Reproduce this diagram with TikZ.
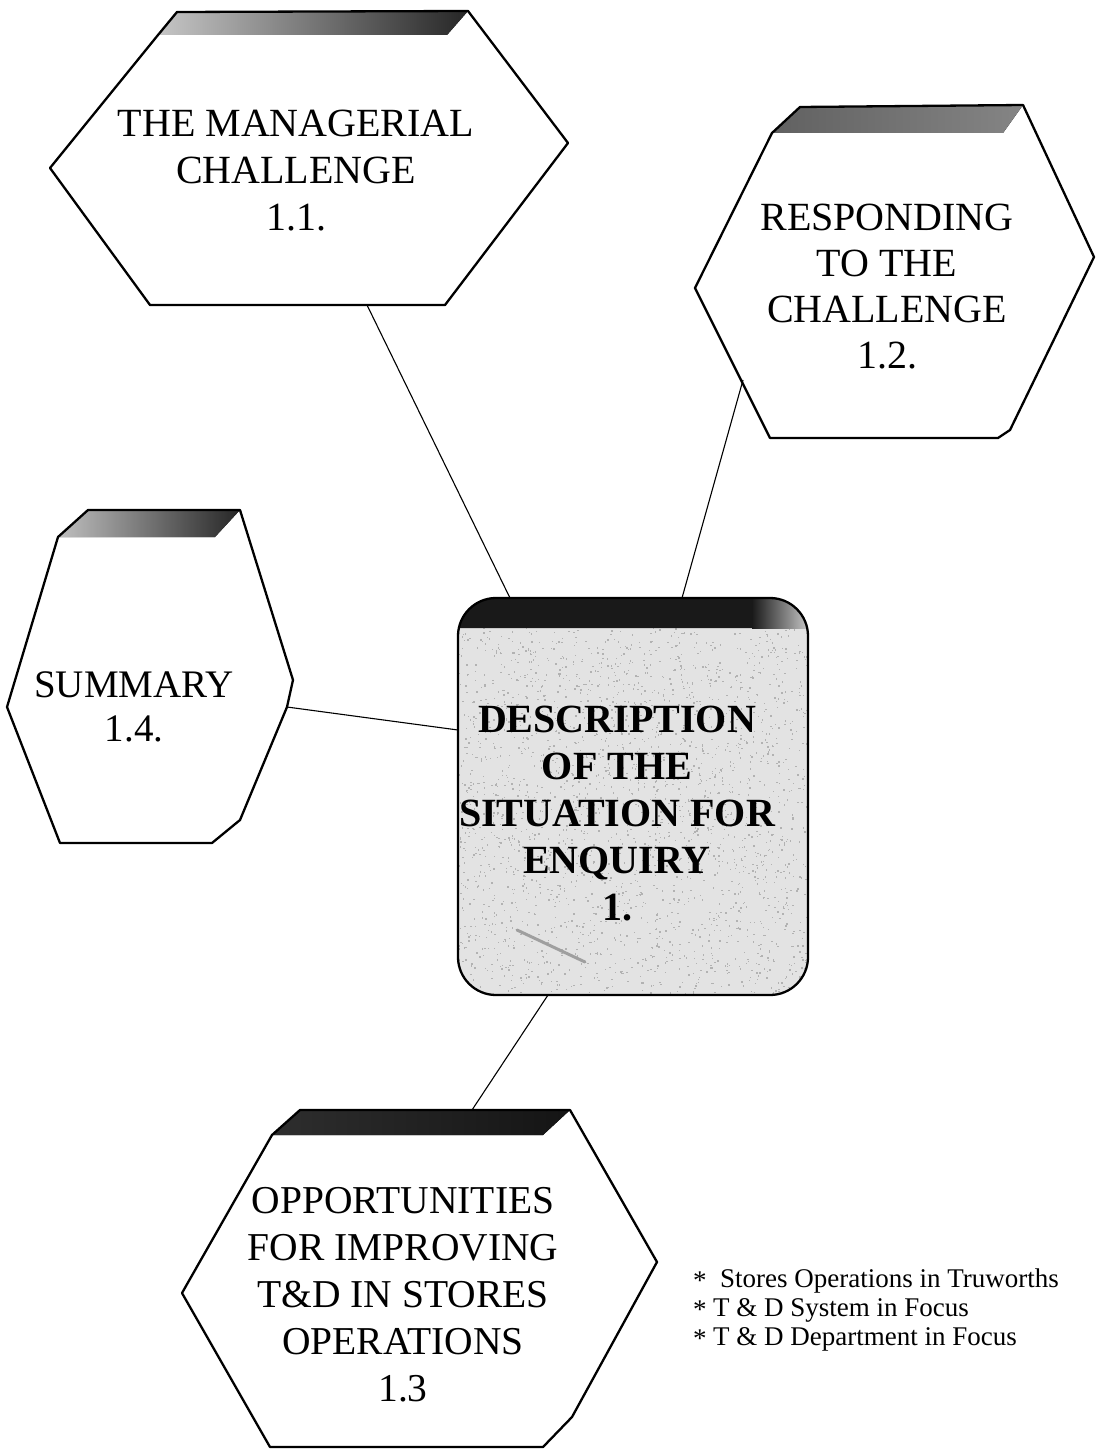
\documentclass[tikz,border=0pt]{standalone}
\usepackage{fontspec}
\setmainfont{Liberation Serif}
\begin{document}
\begin{tikzpicture}[x=1pt,y=-1pt,line join=round,
  outline/.style={draw=black,line width=2.3pt},
  link/.style={draw=black,line width=1.1pt},
  lbl/.style={align=center,inner sep=0pt,text=black},
  bullet/.style={anchor=base west,inner sep=0pt,font=\fontsize{27}{28}\selectfont}]
% page frame
\useasboundingbox (0,0) rectangle (1097,1450);
\fill[white] (0,0) rectangle (1097,1450);

% ---- hexagon 1.1 ----
\fill[left color=gray!45,right color=black!85] (177,12) -- (468,11) -- (447,35) -- (158,35) -- cycle;
\draw[outline] (158,35) -- (177,12) -- (468,11) -- (568,143) -- (445,305) -- (150,305) -- (50,168) -- cycle;
\coordinate (h11) at (367,305);
\node[lbl,font=\fontsize{40}{47}\selectfont] (t11) at (296,171) {THE MANAGERIAL\\CHALLENGE\\1.1.};

% ---- hexagon 1.2 ----
\fill[left color=black!62,right color=black!48] (800,107) -- (1023,105) -- (1003,133) -- (772,133) -- cycle;
\draw[outline] (772,133) -- (800,107) -- (1023,105) -- (1094,257) -- (1010,430) -- (998,438) -- (770,438) -- (695,288) -- cycle;
\coordinate (h12) at (743,380);
\node[lbl,font=\fontsize{40}{46}\selectfont] (t12) at (887,287) {RESPONDING\\TO THE\\CHALLENGE\\1.2.};

% ---- hexagon 1.4 ----
\fill[left color=gray!50,right color=black!85] (88,510) -- (240,510) -- (215,537) -- (58,537) -- cycle;
\draw[outline] (58,537) -- (88,510) -- (240,510) -- (293,680) -- (287,707) -- (240,820) -- (212,843) -- (60,843) -- (7,707) -- cycle;
\coordinate (h14) at (287,707);
\node[lbl,font=\fontsize{39}{44}\selectfont] (t14) at (134,707) {SUMMARY\\1.4.};

% ---- hexagon 1.3 ----
\fill[left color=black!82,right color=black!92] (300,1110) -- (570,1110) -- (543,1135) -- (272,1135) -- cycle;
\draw[outline] (272,1135) -- (300,1110) -- (570,1110) -- (657,1262) -- (572,1417) -- (543,1447) -- (270,1447) -- (182,1293) -- cycle;
\coordinate (h13) at (472,1110);
\node[lbl,font=\fontsize{39.5}{47}\selectfont] (t13) at (403,1295) {OPPORTUNITIES\\FOR IMPROVING\\T\&D IN STORES\\OPERATIONS\\1.3};

% ---- central box ----
\begin{scope}
  \clip[rounded corners=38pt] (458,598) rectangle (808,995);
  \fill[gray!22] (458,598) rectangle (808,995);
  \pgfmathsetseed{11}
  \foreach \k in {1,...,2600}{
    \pgfmathsetmacro\px{458+350*rnd}
    \pgfmathsetmacro\py{598+397*rnd}
    \fill[gray!60] (\px,\py) rectangle ++(1.4,1.4);
  }
  \draw[gray!75,line width=3pt,line cap=round] (517,930) -- (585,962);
  \fill[black!90] (440,590) -- (770,590) -- (758,628) -- (440,628) -- cycle;
  \fill[left color=black!90,right color=gray!45] (752,590) -- (808,590) -- (808,628) -- (752,628) -- cycle;
\end{scope}
\draw[outline,rounded corners=38pt] (458,598) rectangle (808,995);
\coordinate (cTopL) at (510,598);
\coordinate (cTopR) at (682,598);
\coordinate (cLeft) at (458,730);
\coordinate (cBot) at (548,995);
\node[lbl,font=\bfseries\fontsize{40}{47}\selectfont] (tc) at (617,814) {DESCRIPTION\\OF THE\\SITUATION FOR\\ENQUIRY\\1.};

% ---- connectors ----
\draw[link] (h11) -- (cTopL);
\draw[link] (h12) -- (cTopR);
\draw[link] (h14) -- (cLeft);
\draw[link] (cBot) -- (h13);

% ---- notes ----
\node[bullet] (s1) at (693,1289) {*};
\node[bullet] (n1) at (720,1287) {Stores Operations in Truworths};
\node[bullet] (s2) at (693,1318) {*};
\node[bullet] (n2) at (713,1316) {T \& D System in Focus};
\node[bullet] (s3) at (693,1347) {*};
\node[bullet] (n3) at (713,1345) {T \& D Department in Focus};
\end{tikzpicture}
\end{document}
